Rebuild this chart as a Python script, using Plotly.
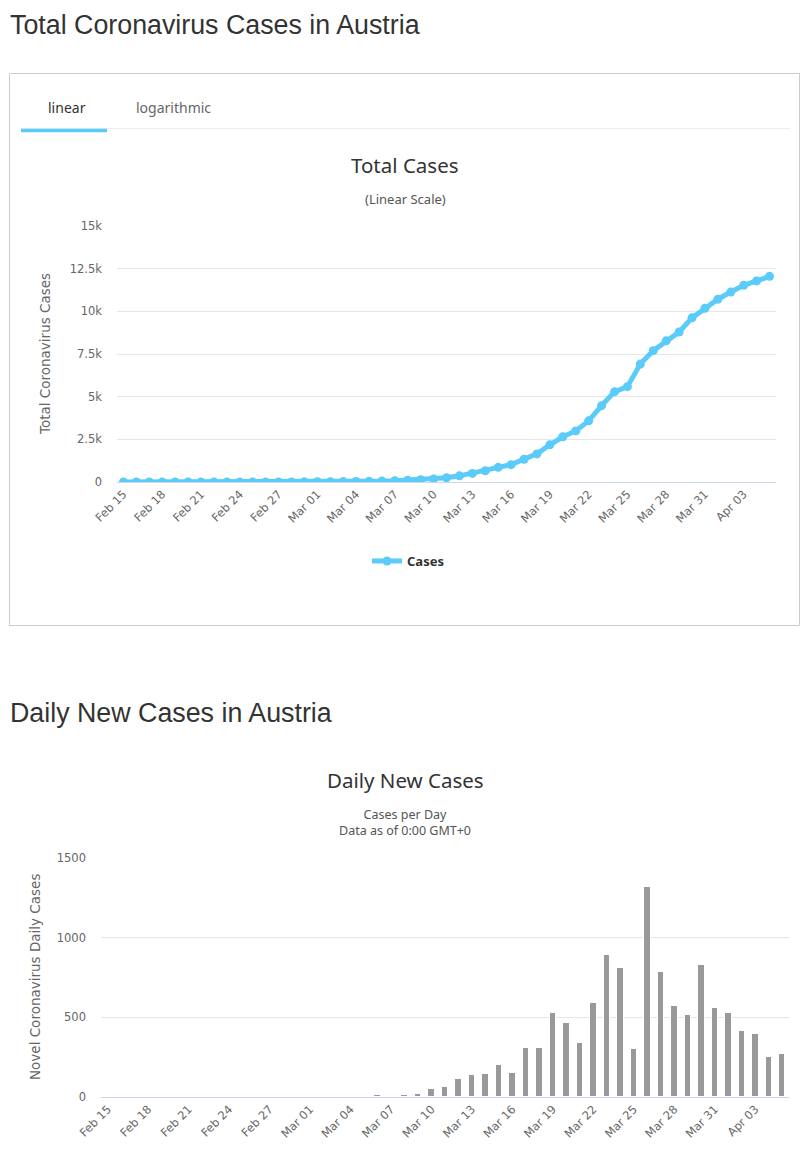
import plotly.graph_objects as go

# ---------------- data ----------------
dates = [
    "Feb 15", "Feb 16", "Feb 17", "Feb 18", "Feb 19", "Feb 20", "Feb 21", "Feb 22",
    "Feb 23", "Feb 24", "Feb 25", "Feb 26", "Feb 27", "Feb 28", "Feb 29",
    "Mar 01", "Mar 02", "Mar 03", "Mar 04", "Mar 05", "Mar 06", "Mar 07", "Mar 08",
    "Mar 09", "Mar 10", "Mar 11", "Mar 12", "Mar 13", "Mar 14", "Mar 15", "Mar 16",
    "Mar 17", "Mar 18", "Mar 19", "Mar 20", "Mar 21", "Mar 22", "Mar 23", "Mar 24",
    "Mar 25", "Mar 26", "Mar 27", "Mar 28", "Mar 29", "Mar 30", "Mar 31",
    "Apr 01", "Apr 02", "Apr 03", "Apr 04", "Apr 05",
]

total_cases = [
    0, 0, 0, 0, 0, 0, 0, 0, 0, 0,
    2, 2, 3, 3, 9,
    14, 18, 24, 29, 41, 55, 79, 104, 131, 182, 246, 361, 504, 655, 860, 1016,
    1332, 1646, 2179, 2649, 2992, 3582, 4474, 5283, 5588, 6909, 7697, 8271,
    8788, 9618, 10180,
    10711, 11129, 11524, 11781, 12051,
]

daily_cases = [
    0, 0, 0, 0, 0, 0, 0, 0, 0, 0,
    2, 0, 1, 0, 3,
    2, 3, 2, 3, 6, 12, 6, 13, 20, 48, 60, 112, 140, 146, 203, 153,
    310, 310, 530, 467, 340, 587, 890, 807, 302, 1321, 786, 571,
    516, 828, 560,
    529, 416, 395, 254, 267,
]

x_tick_labels = ["Feb 15", "Feb 18", "Feb 21", "Feb 24", "Feb 27", "Mar 01", "Mar 04",
                 "Mar 07", "Mar 10", "Mar 13", "Mar 16", "Mar 19", "Mar 22", "Mar 25",
                 "Mar 28", "Mar 31", "Apr 03"]
total_ytick_vals = [0, 2500, 5000, 7500, 10000, 12500, 15000]
total_ytick_text = ["0", "2.5k", "5k", "7.5k", "10k", "12.5k", "15k"]
daily_ytick_vals = [0, 500, 1000, 1500]
daily_ytick_text = ["0", "500", "1000", "1500"]

# ---------------- layout helpers ----------------
# the page body has an 8px margin, so the figure is sized to fill the window exactly
PAGE_W, PAGE_H = 810, 1161
OFF = 8
W, H = PAGE_W - OFF, PAGE_H - OFF


def px(x):
    return (x - OFF) / W


def py(y):
    return 1 - (y - OFF) / H


LINE_COLOR = "#5bcbfa"
BAR_COLOR = "#999999"
TICK_FONT = dict(family="DejaVu Sans", size=11.5, color="#666666")
TITLE_FONT = "Noto Sans"
HEAD_FONT = "Liberation Sans"

fig = go.Figure()

fig.add_trace(go.Scatter(
    x=dates, y=total_cases, mode="lines+markers", name="<b>Cases</b>",
    line=dict(color=LINE_COLOR, width=5),
    marker=dict(color=LINE_COLOR, size=9),
    xaxis="x", yaxis="y", showlegend=True,
))

fig.add_trace(go.Bar(
    x=dates, y=daily_cases, name="Daily Cases",
    marker=dict(color=BAR_COLOR, line=dict(color="#ffffff", width=1)),
    width=0.48, xaxis="x2", yaxis="y2", showlegend=False,
))

common_x = dict(
    type="category", categoryorder="array", categoryarray=dates,
    tickmode="array", tickvals=x_tick_labels, ticktext=x_tick_labels,
    tickangle=-45, tickfont=TICK_FONT, showgrid=False,
    showline=True, linecolor="#ccd6eb", linewidth=1,
    ticks="", range=[-0.5, len(dates) - 0.5], fixedrange=True, automargin=False,
)
common_y = dict(
    showgrid=True, gridcolor="#e6e6e6", gridwidth=1, zeroline=False,
    showline=False, ticks="", tickfont=TICK_FONT, ticklabelstandoff=14,
    tickmode="array", fixedrange=True, automargin=False,
)

fig.update_layout(
    width=W, height=H,
    margin=dict(l=0, r=0, t=0, b=0, pad=0, autoexpand=False),
    paper_bgcolor="#ffffff", plot_bgcolor="#ffffff",
    xaxis=dict(domain=[px(117), px(776)], anchor="y", **common_x),
    yaxis=dict(domain=[py(482), py(226)], anchor="x", range=[0, 15000],
               tickvals=total_ytick_vals, ticktext=total_ytick_text, **common_y),
    xaxis2=dict(domain=[px(101), px(789)], anchor="y2", **common_x),
    yaxis2=dict(domain=[py(1097), py(858)], anchor="x2", range=[0, 1500],
                tickvals=daily_ytick_vals, ticktext=daily_ytick_text, **common_y),
    legend=dict(orientation="h", x=px(408), xanchor="center", y=py(561), yanchor="middle",
                font=dict(family=TITLE_FONT, size=13, color="#333333"),
                bgcolor="rgba(0,0,0,0)"),
    showlegend=True,
    bargap=0,
)

# card border & tabs
fig.add_shape(type="rect", xref="paper", yref="paper",
              x0=px(9.5), x1=px(799.5), y0=py(625.5), y1=py(73.5),
              line=dict(color="#cccccc", width=1), fillcolor="rgba(0,0,0,0)")
fig.add_shape(type="line", xref="paper", yref="paper",
              x0=px(21), x1=px(790), y0=py(128.5), y1=py(128.5),
              line=dict(color="#eeeeee", width=1))
fig.add_shape(type="line", xref="paper", yref="paper",
              x0=px(21), x1=px(107), y0=py(130.5), y1=py(130.5),
              line=dict(color=LINE_COLOR, width=3.5))

annots = [
    dict(text="Total Coronavirus Cases in Austria", x=px(8), y=py(25), xanchor="left",
         font=dict(family=HEAD_FONT, size=26.8, color="#333333")),
    dict(text="Daily New Cases in Austria", x=px(8), y=py(713), xanchor="left",
         font=dict(family=HEAD_FONT, size=26.8, color="#333333")),
    dict(text="linear", x=px(67), y=py(107), xanchor="center",
         font=dict(family=TITLE_FONT, size=14, color="#333333")),
    dict(text="logarithmic", x=px(173), y=py(107), xanchor="center",
         font=dict(family=TITLE_FONT, size=14, color="#666666")),
    dict(text="Total Cases", x=px(405), y=py(165), xanchor="center",
         font=dict(family=TITLE_FONT, size=20.5, color="#333333")),
    dict(text="(Linear Scale)", x=px(405), y=py(199), xanchor="center",
         font=dict(family=TITLE_FONT, size=13, color="#555555")),
    dict(text="Daily New Cases", x=px(405), y=py(780), xanchor="center",
         font=dict(family=TITLE_FONT, size=20.5, color="#333333")),
    dict(text="Cases per Day<br>Data as of 0:00 GMT+0", x=px(405), y=py(822.5),
         xanchor="center", font=dict(family=TITLE_FONT, size=12.5, color="#555555")),
    dict(text="Total Coronavirus Cases", x=px(45), y=py(354), textangle=-90,
         xanchor="center", font=dict(family="DejaVu Sans", size=13.5, color="#666666")),
    dict(text="Novel Coronavirus Daily Cases", x=px(35), y=py(977), textangle=-90,
         xanchor="center", font=dict(family="DejaVu Sans", size=13.5, color="#666666")),
]
for a in annots:
    fig.add_annotation(xref="paper", yref="paper", yanchor="middle", showarrow=False, **a)

fig.write_html("out.html")
